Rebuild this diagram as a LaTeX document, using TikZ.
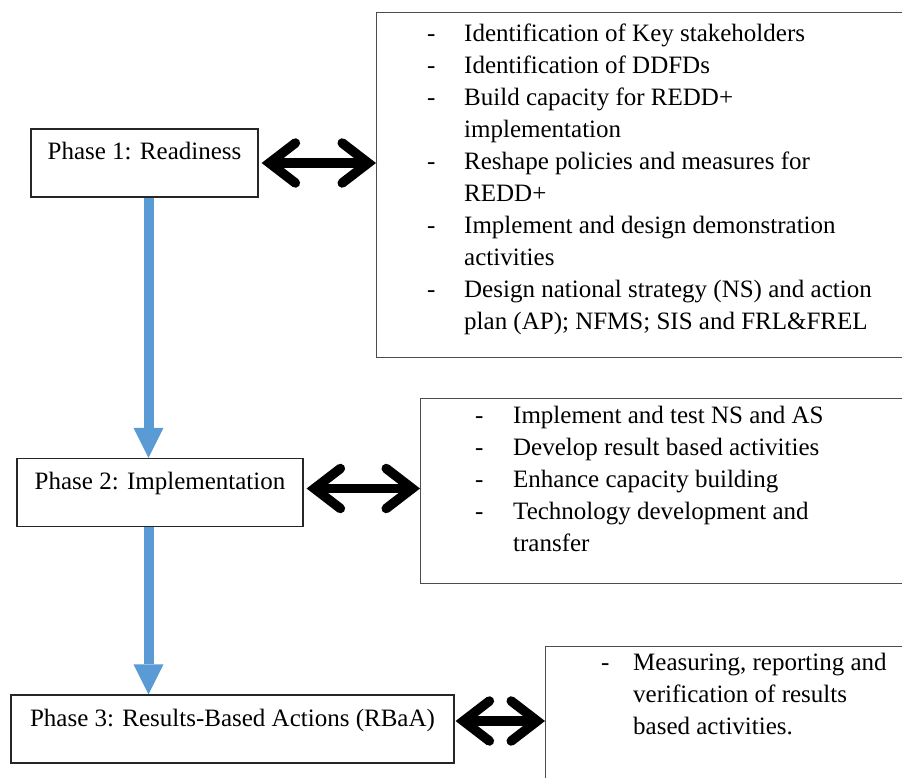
\documentclass[tikz,border=0pt]{standalone}
\usepackage{fontspec}
\setmainfont{Liberation Serif}
\usetikzlibrary{arrows.meta}
\definecolor{flowblue}{HTML}{5B9BD5}
\newcommand\phasefont{\fontsize{25pt}{32pt}\selectfont}

\begin{document}
\begin{tikzpicture}[x=1pt,y=-1pt,
  phase/.style={draw=black!85, line width=1.2pt, inner sep=0pt, text height=31pt, text depth=37pt, font=\phasefont},
  listbox/.style={draw=black!70, line width=1.3pt, inner sep=0pt, anchor=north west},
  listtext/.style={inner sep=0pt, anchor=base west, font=\phasefont},
  linkarrow/.style={line width=9.5pt, {Straight Barb[length=26pt,width=40pt,line cap=round,line join=miter]}-{Straight Barb[length=26pt,width=40pt,line cap=round,line join=miter]}},
  flowarrow/.style={draw=flowblue, line width=10pt, -{Triangle[length=30pt,width=30pt,line width=0pt]}}]
\useasboundingbox (0,0) rectangle (902,778);
\clip (0,0) rectangle (902,778);
\fill[white] (0,0) rectangle (902,778);
% Drawing phase boxes
\node[phase, minimum width=227pt] (ph1) at (144.5,163) {Phase 1: Readiness};
\node[phase, minimum width=286pt] (ph2) at (160,492.5) {Phase 2: Implementation};
\node[phase, minimum width=443pt] (ph3) at (232.5,729) {Phase 3: Results-Based Actions (RBaA)};
% Done with phases; drawing activity boxes (they run off the page)
\node[listbox, minimum width=560pt, minimum height=345pt] (box1) at (376,12) {};
\node[listbox, minimum width=520pt, minimum height=185pt] (box2) at (420,398) {};
\node[listbox, minimum width=400pt, minimum height=160pt] (box3) at (545,646) {};
\node[listtext] (act1) at (427,42) {\begin{tabular}[t]{@{}p{37pt}@{}l@{}}
- & Identification of Key stakeholders\\
- & Identification of DDFDs\\
- & Build capacity for REDD+\\
  & implementation\\
- & Reshape policies and measures for\\
  & REDD+\\
- & Implement and design demonstration\\
  & activities\\
- & Design national strategy (NS) and action\\
  & plan (AP); NFMS; SIS and FRL\&FREL
\end{tabular}};
\node[listtext] (act2) at (475,423) {\begin{tabular}[t]{@{}p{38pt}@{}l@{}}
- & Implement and test NS and AS\\
- & Develop result based activities\\
- & Enhance capacity building\\
- & Technology development and\\
  & transfer
\end{tabular}};
\node[listtext] (act3) at (601,670) {\begin{tabular}[t]{@{}p{32pt}@{}l@{}}
- & Measuring, reporting and\\
  & verification of results\\
  & based activities.
\end{tabular}};
% Done with boxes; drawing arrows
\coordinate (axis) at (148.5,0);
\draw[flowarrow] (ph1.south -| axis) -- (ph2.north -| axis);
\draw[flowarrow] (ph2.south -| axis) -- (ph3.north -| axis);
\draw[linkarrow] ([xshift=3pt]ph1.east) -- (ph1.east -| box1.west);
\draw[linkarrow] ([shift={(3pt,4pt)}]ph2.east) -- ([yshift=4pt]ph2.east -| box2.west);
\draw[linkarrow] ([shift={(1pt,8pt)}]ph3.east) -- ([yshift=8pt]ph3.east -| box3.west);
% Done with arrows
\end{tikzpicture}
\end{document}
